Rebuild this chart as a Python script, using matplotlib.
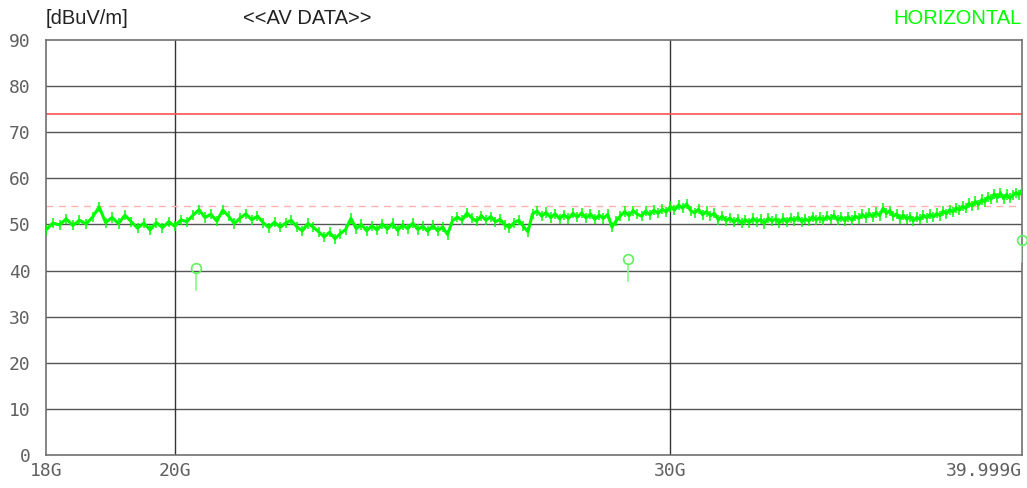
import matplotlib
matplotlib.use('Agg')
import matplotlib.pyplot as plt
import numpy as np

# 측정 데이터 (GHz, dBuV/m)
trace_level = [
    48.8, 50.3, 49.9, 51.2, 49.8, 50.9, 50.1, 51.6, 53.8, 50.4,  # 18
    51.5, 50.2, 52.0, 50.6, 49.2, 50.3, 48.8, 50.4, 49.3, 50.6,  # 19
    49.6, 51.0, 50.6, 52.0, 53.2, 51.5, 52.2, 50.7, 53.1, 51.8,  # 20
    50.2, 51.4, 52.3, 51.0, 51.8, 50.4, 49.3, 50.5, 49.4, 50.3,  # 21
    50.9, 49.5, 48.6, 50.2, 49.4, 48.4, 47.3, 48.3, 46.9, 48.0,  # 22
    48.9, 51.3, 49.1, 50.0, 48.6, 49.7, 48.8, 50.1, 49.0, 50.2,  # 23
    48.7, 49.9, 49.1, 50.3, 48.9, 49.6, 48.5, 49.8, 48.6, 49.5,  # 24
    47.8, 50.8, 51.6, 50.9, 52.5, 51.4, 50.7, 51.9, 50.9, 51.7,  # 25
    50.6, 51.1, 49.9, 49.3, 50.4, 50.9, 49.6, 48.4, 52.3, 52.9,  # 26
    51.8, 52.6, 51.5, 52.3, 51.2, 52.1, 51.3, 52.4, 51.6, 52.5,  # 27
    51.4, 52.3, 51.1, 52.0, 51.3, 52.2, 49.4, 50.8, 51.9, 52.8,  # 28
    51.9, 53.0, 52.2, 51.8, 52.9, 52.1, 53.1, 52.4, 53.3, 52.7,  # 29
    53.9, 53.1, 54.2, 53.5, 54.4, 53.0, 52.5, 53.3, 52.1, 52.8,  # 30
    51.9, 52.4, 51.0, 51.8, 50.8, 51.4, 50.5, 51.2, 50.3, 51.0,  # 31
    50.4, 51.3, 50.6, 51.1, 50.2, 51.4, 50.7, 51.2, 50.4, 51.3,  # 32
    50.5, 51.4, 50.8, 51.6, 50.6, 51.2, 50.7, 51.7, 50.9, 51.5,  # 33
    50.9, 51.8, 51.1, 52.0, 50.9, 51.6, 50.8, 51.7, 50.9, 51.8,  # 34
    51.3, 52.2, 51.5, 52.4, 51.6, 52.6, 51.9, 53.5, 52.4, 53.0,  # 35
    51.8, 52.3, 51.2, 52.0, 51.1, 51.7, 50.8, 51.6, 51.1, 52.0,  # 36
    51.4, 52.2, 51.6, 52.4, 51.9, 52.9, 52.3, 53.2, 52.7, 53.6,  # 37
    53.1, 54.0, 53.5, 54.6, 54.0, 55.0, 54.3, 55.4, 54.9, 56.0,  # 38
    55.5, 56.6, 55.8, 56.8, 55.6, 56.5, 55.7, 56.3, 56.9, 56.4,  # 39
    57.5,
]
# 0.1 GHz 간격 스윕 + 마지막 점 39.999G
trace_freq = list(np.round(np.arange(180, 400) * 0.1, 1)) + [39.999]
# 노이즈 밴드 반폭 (dB)
band_half = 1.1

peak_freq = [20.35, 28.98, 39.99]
peak_level = [40.5, 42.5, 46.6]

limit_level = 74
margin_level = 54

x_ticks = [18, 20, 30, 39.999]
x_labels = ['18G', '20G', '30G', '39.999G']
y_ticks = list(range(0, 100, 10))

green = '#00ff00'
mono = 'DejaVu Sans Mono'

fig = plt.figure(figsize=(10.27, 4.88), dpi=100)
ax = fig.add_axes([46 / 1027, 33 / 488, 976 / 1027, 415 / 488])

ax.set_xscale('log')
ax.set_xlim(18, 39.999)
ax.set_ylim(0, 90)

# 그리드
for y in y_ticks[1:-1]:
    ax.axhline(y, color='#555555', lw=1.0, zorder=1)
for x in [20, 30]:
    ax.axvline(x, color='#333333', lw=1.0, zorder=1)

# 리밋 라인
ax.axhline(limit_level, color='#ff5050', lw=1.2, zorder=2)
ax.axhline(margin_level, color='#ffb0b0', lw=1.0, ls=(0, (5, 4)), zorder=2)

# 트레이스
lv = np.array(trace_level)
ax.vlines(trace_freq, lv - band_half, lv + band_half, color=green, lw=1.1, zorder=3)
ax.plot(trace_freq, trace_level, color=green, lw=2.2, zorder=3)

# 피크 마커
for f, v in zip(peak_freq, peak_level):
    ax.plot([f, f], [v - 1.0, v - 4.8], color='#80ff80', lw=1.2, zorder=4)
ax.plot(peak_freq, peak_level, 'o', mfc='none', mec='#60f060', ms=7, mew=1.2,
        zorder=4, clip_on=False)

for s in ax.spines.values():
    s.set_color('#707070')
    s.set_linewidth(1.2)

ax.set_xticks(x_ticks)
ax.set_xticklabels(x_labels)
ax.xaxis.set_minor_locator(matplotlib.ticker.NullLocator())
ax.set_yticks(y_ticks)
ax.tick_params(length=0, labelsize=13, labelcolor='#606060')
ax.tick_params(axis='y', pad=11)
ax.tick_params(axis='x', pad=5)
for lab in ax.get_xticklabels() + ax.get_yticklabels():
    lab.set_family(mono)
ax.get_xticklabels()[-1].set_horizontalalignment('right')

fig.text(46 / 1027, 1 - 18 / 488, '[dBuV/m]', fontsize=14.5, family='Liberation Sans',
         color='#222222', va='center', ha='left')
fig.text(243 / 1027, 1 - 18 / 488, '<<AV DATA>>', fontsize=14.5, family='Liberation Sans',
         color='#222222', va='center', ha='left')
fig.text(1022 / 1027, 1 - 18 / 488, 'HORIZONTAL', fontsize=14.5, family='Liberation Sans',
         color=green, va='center', ha='right')

fig.savefig('out.png', dpi=100)
